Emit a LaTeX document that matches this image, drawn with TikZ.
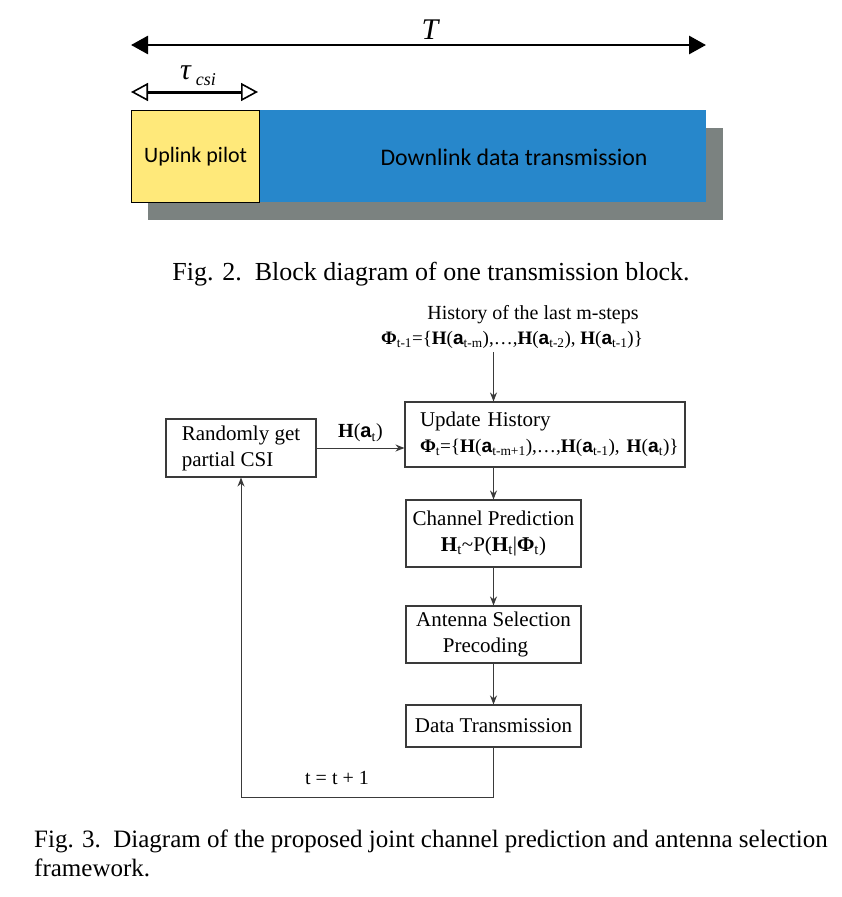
\documentclass[tikz,border=0pt]{standalone}
\usepackage{fontspec}
\setmainfont{Liberation Serif}
\setsansfont{Liberation Sans}
\newfontfamily\slidefont{Carlito}
\usetikzlibrary{arrows.meta}

\definecolor{pilotyellow}{HTML}{FFE97A}
\definecolor{datablue}{HTML}{2787CB}
\definecolor{shadowgray}{HTML}{7B8280}
\definecolor{linegray}{HTML}{3A3A3A}

\newcommand{\lowidx}[1]{\textsubscript{#1}}
\newcommand{\va}{\textsf{\textbf{a}}}

\begin{document}
\begin{tikzpicture}[x=1pt, y=-1pt,
    blockbox/.style={rectangle, inner sep=0pt, anchor=north west, minimum height=92pt},
    stepbox/.style={draw=linegray, line width=1.1pt, rectangle, inner sep=4pt, font=\fontsize{21}{26}\selectfont},
    flow/.style={draw=linegray, line width=1pt, -{Stealth[length=9pt,width=7pt]}},
    caption/.style={font=\fontsize{25}{29}\selectfont, inner sep=0pt, anchor=base west}
]
\useasboundingbox (0,0) rectangle (841,897);

% one transmission block
\node[blockbox, fill=shadowgray, minimum width=575pt] (shadow) at (148,128) {};
\node[blockbox, fill=datablue, minimum width=447pt] (downlink) at (259,110) {};
\node[blockbox, draw=black, line width=1.2pt, fill=pilotyellow, minimum width=128pt, font=\slidefont\fontsize{22}{26}\selectfont] (pilot) at (131,110) {Uplink pilot};
\node[font=\slidefont\fontsize{23.8}{26}\selectfont] (downlinktxt) at (514,157) {Downlink data transmission};

\coordinate (tstart) at (131,45);
\coordinate (tend) at (706,45);
\draw[line width=2.8pt, {Triangle[length=17pt,width=18pt]}-{Triangle[length=17pt,width=18pt]}] (tstart) -- (tend);
\node[font=\fontsize{30}{30}\selectfont\itshape] (tlabel) at (430,30) {T};

\coordinate (csistart) at (131,92);
\coordinate (csiend) at (258,92);
\draw[line width=3pt, {Triangle[open,length=17pt,width=18pt,line width=1.6pt]}-{Triangle[open,length=17pt,width=18pt,line width=1.6pt]}] (csistart) -- (csiend);
\node[font=\fontsize{30}{30}\selectfont\itshape, inner sep=0pt] (csilabel) at (198,76) {τ\,\raisebox{-6pt}{\fontsize{18}{18}\selectfont csi}};

\node[font=\fontsize{26}{29}\selectfont, inner sep=0pt, anchor=base] (cap2) at (431,280) {Fig. 2.\ \ Block diagram of one transmission block.};

% prediction and selection loop
\node[font=\fontsize{20}{24}\selectfont] (histtitle) at (533,315) {History of the last m-steps};
\node[font=\fontsize{19}{24}\selectfont] (hist) at (512,340) {\textbf{Φ}\lowidx{t-1}=\{\textbf{H}(\va\lowidx{t-m}),\ldots,\textbf{H}(\va\lowidx{t-2}), \textbf{H}(\va\lowidx{t-1})\}};
\node[stepbox, minimum width=280pt, minimum height=65pt, text width=262pt, align=left] (update) at (545,434.5) {\hspace*{6pt}Update History\\
    \mbox{\fontsize{19.2}{24}\selectfont\hspace*{6pt}\textbf{Φ}\lowidx{t}=\{\textbf{H}(\va\lowidx{t-m+1}),\ldots,\textbf{H}(\va\lowidx{t-1}), \textbf{H}(\va\lowidx{t})\}}};
\node[stepbox, minimum width=150pt, minimum height=58pt, align=left] (random) at (241,448) {Randomly get\\partial CSI};
\node[stepbox, minimum width=175pt, minimum height=67pt, align=center] (predict) at (493.5,533.5) {Channel Prediction\\
    \textbf{H}\lowidx{t}\textasciitilde P(\textbf{H}\lowidx{t}|\textbf{Φ}\lowidx{t})};
\node[stepbox, minimum width=175pt, minimum height=57pt, align=center] (select) at (493.5,634.5) {Antenna Selection\\Precoding\hspace*{16pt}};
\node[stepbox, minimum width=175pt, minimum height=42pt] (transmit) at (493.5,726) {Data Transmission};

\draw[flow] (predict.north |- hist.south) -- (predict.north |- update.north);
\draw[flow] (random.east) -- (update.west |- random.east) node[midway, above, font=\fontsize{20}{24}\selectfont, yshift=2pt] (hlabel) {\textbf{H}(\va\lowidx{t})};
\draw[flow] (predict.north |- update.south) -- (predict.north);
\draw[flow] (predict) -- (select);
\draw[flow] (select) -- (transmit);
\coordinate (loopcorner) at (241,797);
\draw[flow] (transmit.south) |- (loopcorner) -- (random.south);
\node[font=\fontsize{20}{24}\selectfont] (incr) at (337,778) {t = t + 1};

\node[caption] (cap3) at (34,847) {Fig. 3.\ \ Diagram of the proposed joint channel prediction and antenna selection};
\node[caption] (cap3b) at (34,876) {framework.};
\end{tikzpicture}
\end{document}
